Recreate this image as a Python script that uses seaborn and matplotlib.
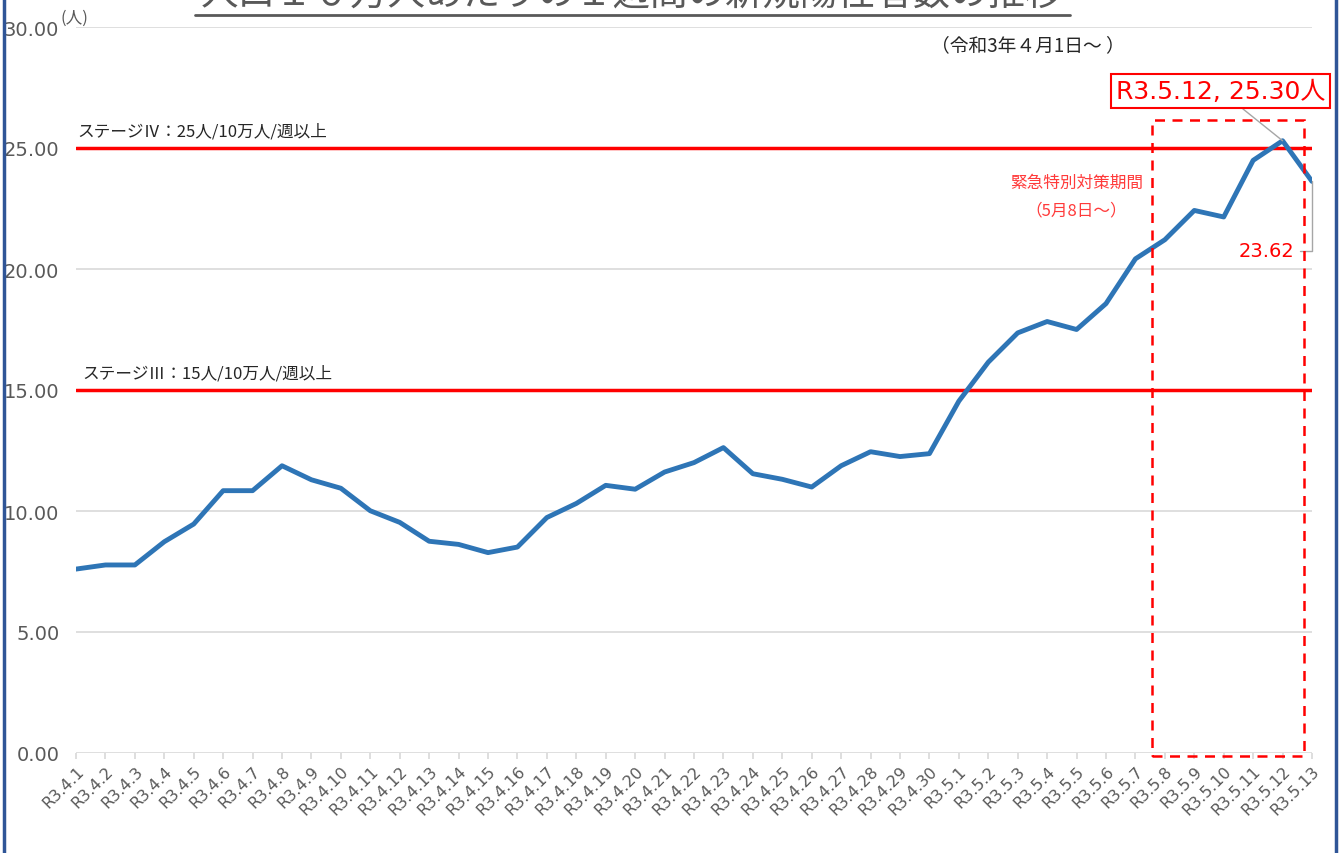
import numpy as np
import pandas as pd
import matplotlib
matplotlib.use('Agg')
import matplotlib.pyplot as plt
import seaborn as sns
from matplotlib.lines import Line2D
from matplotlib.patches import Rectangle

# データ
dates = ['R3.4.1', 'R3.4.2', 'R3.4.3', 'R3.4.4', 'R3.4.5', 'R3.4.6', 'R3.4.7', 'R3.4.8',
         'R3.4.9', 'R3.4.10', 'R3.4.11', 'R3.4.12', 'R3.4.13', 'R3.4.14', 'R3.4.15',
         'R3.4.16', 'R3.4.17', 'R3.4.18', 'R3.4.19', 'R3.4.20', 'R3.4.21', 'R3.4.22',
         'R3.4.23', 'R3.4.24', 'R3.4.25', 'R3.4.26', 'R3.4.27', 'R3.4.28', 'R3.4.29',
         'R3.4.30', 'R3.5.1', 'R3.5.2', 'R3.5.3', 'R3.5.4', 'R3.5.5', 'R3.5.6', 'R3.5.7',
         'R3.5.8', 'R3.5.9', 'R3.5.10', 'R3.5.11', 'R3.5.12', 'R3.5.13']
cases = [7.60, 7.77, 7.77, 8.73, 9.46, 10.84, 10.84, 11.87, 11.29, 10.94, 10.01, 9.53,
         8.75, 8.62, 8.28, 8.51, 9.73, 10.31, 11.06, 10.90, 11.61, 12.00, 12.62, 11.54,
         11.31, 10.99, 11.87, 12.45, 12.25, 12.37, 14.54, 16.15, 17.36, 17.83, 17.50,
         18.57, 20.42, 21.21, 22.42, 22.15, 24.49, 25.30, 23.62]
stage_levels = [25, 15]
stage_labels = ['ステージⅣ：25人/10万人/週以上', 'ステージⅢ：15人/10万人/週以上']
y_ticks = [0, 5, 10, 15, 20, 25, 30]

df = pd.DataFrame({'idx': np.arange(len(dates)), 'date': dates, 'cases': cases})

sns.set_theme(style='white')
plt.rcParams['font.family'] = ['Noto Sans CJK JP', 'DejaVu Sans']

W, H = 1341, 854
fig = plt.figure(figsize=(W / 100, H / 100), dpi=100)
ax = fig.add_axes([76 / W, 1 - 754 / H, (1312 - 76) / W, (754 - 28) / H])

gray = '#595959'
red = '#FF0000'

# グリッド
for t in y_ticks:
    ax.axhline(t, color='#D9D9D9', lw=1.2, zorder=0)

# ステージ線
for lvl in stage_levels:
    ax.axhline(lvl, color=red, lw=2.5, zorder=2)

sns.lineplot(data=df, x='idx', y='cases', color='#2E75B6', lw=3.5, ax=ax, zorder=3)

ax.set_xlim(0, len(dates) - 1)
ax.set_ylim(0, 30)
ax.set_xlabel('')
ax.set_ylabel('')
for s in ax.spines.values():
    s.set_visible(False)

ax.set_yticks(y_ticks)
ax.set_yticklabels([f'{t:.2f}' for t in y_ticks], fontsize=14, color=gray, family='DejaVu Sans')
ax.set_xticks(df['idx'])
ax.set_xticklabels(dates, rotation=45, ha='right', rotation_mode='anchor',
                   fontsize=11.5, color=gray, family='DejaVu Sans')
ax.tick_params(axis='y', length=0, pad=12)
ax.tick_params(axis='x', length=4, color='#D9D9D9', pad=3, bottom=True)

# ステージラベル
ax.text(0.05, 25.35, stage_labels[0], fontsize=12, color='#262626', va='bottom')
ax.text(0.2, 15.35, stage_labels[1], fontsize=12, color='#262626', va='bottom')

# 緊急特別対策期間
rect = Rectangle((36.56, -0.12), 41.73 - 36.56, 26.14 + 0.12, fill=False,
                 edgecolor=red, lw=1.8, ls=(0, (4, 3)), zorder=4, clip_on=False)
ax.add_patch(rect)
ax.text(34.0, 23.6, '緊急特別対策期間', fontsize=12, color='#FF3B3B', ha='center', va='center')
ax.text(34.0, 22.45, '（5月8日～）', fontsize=12, color='#FF3B3B', ha='center', va='center')

# データラベル
ax.annotate('23.62', xy=(42, 23.62), xytext=(41.4, 20.75), fontsize=14, color=red,
            family='DejaVu Sans', ha='right', va='center',
            arrowprops=dict(arrowstyle='-', color='#A6A6A6', lw=1,
                            connectionstyle='angle,angleA=0,angleB=90,rad=0',
                            shrinkA=2, shrinkB=0))
ax.annotate('R3.5.12, 25.30人', xy=(41, 25.30), xytext=(38.9, 27.35), fontsize=18,
            color=red, ha='center', va='center', family=['DejaVu Sans', 'Noto Sans CJK JP'],
            bbox=dict(boxstyle='square,pad=0.2', fc='white', ec=red, lw=1.5),
            arrowprops=dict(arrowstyle='-', color='#A6A6A6', lw=1, shrinkA=0, shrinkB=0))

# タイトル・注記
fig.text(632 / W, 1 - 14 / H, '人口１０万人あたりの１週間の新規陽性者数の推移', fontsize=27,
         color=gray, ha='center', va='bottom')
fig.add_artist(Line2D([195 / W, 1070 / W], [1 - 16 / H, 1 - 16 / H], color=gray, lw=2))
fig.text(1028 / W, 1 - 46 / H, '（令和3年４月1日～ ）', fontsize=13.5, color='#262626',
         ha='center', va='center')
fig.text(74 / W, 1 - 18 / H, '(人)', fontsize=12, color=gray, ha='center', va='center')

# 枠線
fig.add_artist(Line2D([4 / W, 4 / W], [0, 1], color='#2F5597', lw=2.5))
fig.add_artist(Line2D([1336 / W, 1336 / W], [0, 1], color='#2F5597', lw=2.5))

fig.savefig('out.png', dpi=100)
